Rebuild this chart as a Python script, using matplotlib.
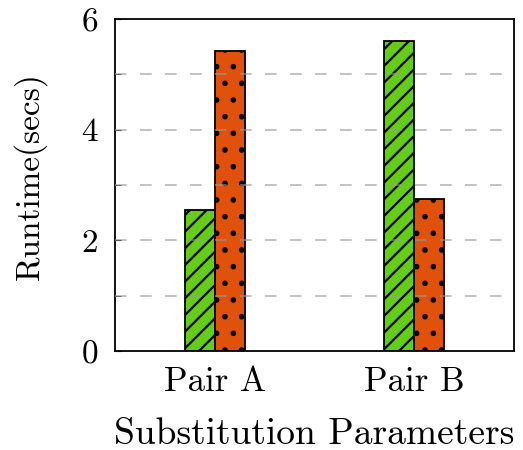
import matplotlib
matplotlib.use("Agg")
import matplotlib.pyplot as plt
import numpy as np

plt.rcParams['font.family'] = ['cmr10', 'DejaVu Serif']
plt.rcParams['axes.formatter.use_mathtext'] = True
plt.rcParams['hatch.linewidth'] = 1.6

categories = ["Pair A", "Pair B"]
series_green = [2.54, 5.60]
series_orange = [5.42, 2.74]
y_ticks = [0, 2, 4, 6]
grid_levels = [1, 2, 3, 4, 5]

fig = plt.figure(figsize=(5.23, 4.5), dpi=100)
ax = fig.add_axes([115 / 523, 1 - 351 / 450, (514 - 115) / 523, (351 - 19) / 450])

x = np.arange(len(categories))
w = 0.15
ax.bar(x - w / 2, series_green, width=w, color='#66cc1a', edgecolor='black',
       linewidth=1.3, hatch='//', zorder=2)
ax.bar(x + w / 2, series_orange, width=w, color='#e0520c', edgecolor='black',
       linewidth=1.3, hatch='.', zorder=2)

ax.set_xlim(-0.5, 1.5)
ax.set_ylim(0, 6)
ax.set_xticks(x)
ax.set_xticklabels(categories)
ax.set_yticks(y_ticks)
ax.set_yticks(grid_levels, minor=True)
ax.tick_params(axis='x', length=0, pad=11, labelsize=25)
ax.tick_params(axis='y', which='both', direction='in', length=4, labelsize=24, pad=12)
for v in grid_levels:
    ax.axhline(v, color='#999999', linestyle=(0, (7, 8)), linewidth=1.2,
               alpha=0.7, zorder=3)

for s in ax.spines.values():
    s.set_linewidth(1.3)

ax.set_ylabel("Runtime(secs)", fontsize=24)
ax.yaxis.set_label_coords(-0.17, 0.527)
ax.set_xlabel("Substitution Parameters", fontsize=27, labelpad=14)

fig.savefig("out.png", dpi=100)
